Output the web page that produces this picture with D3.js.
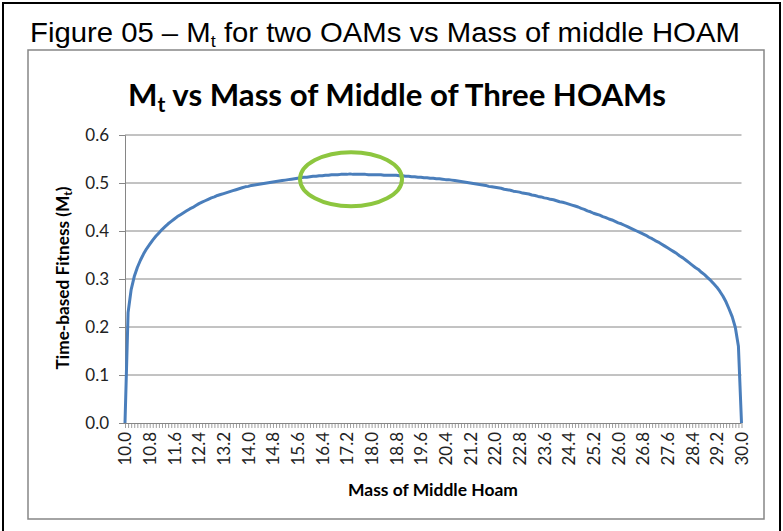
<!DOCTYPE html>
<html>
<head>
<meta charset="utf-8">
<script src="https://cdn.jsdelivr.net/npm/d3@7"></script>
<style>
  html, body { margin: 0; padding: 0; background: #fff; }
  svg { display: block; }
</style>
</head>
<body>
<script>
// ---------------- DATA ----------------
const figureCaption = ["Figure 05 \u2013 M", "t", " for two OAMs vs Mass of middle HOAM"];
const chartTitle = ["M", "t", " vs Mass of Middle of Three HOAMs"];
const yTitle = ["Time-based Fitness (M", "t", ")"];
const xTitle = "Mass of Middle Hoam";

// categories: mass of middle HOAM, 10.0 .. 30.0 step 0.1
const categories = d3.range(100, 301).map(d => (d / 10).toFixed(1));

// tick labels shown on the category axis
const xTickLabels = ["10.0","10.8","11.6","12.4","13.2","14.0","14.8","15.6","16.4","17.2",
  "18.0","18.8","19.6","20.4","21.2","22.0","22.8","23.6","24.4","25.2",
  "26.0","26.8","27.6","28.4","29.2","30.0"];
const yTicks = [0, 0.1, 0.2, 0.3, 0.4, 0.5, 0.6];

// time-based fitness Mt
const mtValues = [
  0.000, 0.230, 0.278, 0.305, 0.324, 0.339, 0.352, 0.363, 0.372, 0.381,
  0.389, 0.396, 0.403, 0.409, 0.415, 0.420, 0.425, 0.430, 0.434, 0.438,
  0.442, 0.446, 0.449, 0.453, 0.457, 0.460, 0.463, 0.466, 0.469, 0.471,
  0.474, 0.476, 0.478, 0.480, 0.482, 0.484, 0.486, 0.488, 0.490, 0.492,
  0.493, 0.495, 0.496, 0.497, 0.498, 0.499, 0.500, 0.501, 0.502, 0.503,
  0.504, 0.505, 0.506, 0.507, 0.508, 0.509, 0.510, 0.511, 0.512, 0.512,
  0.513, 0.514, 0.514, 0.515, 0.515, 0.516, 0.516, 0.517, 0.517, 0.517,
  0.518, 0.518, 0.518, 0.519, 0.518, 0.518, 0.518, 0.518, 0.518, 0.517,
  0.517, 0.517, 0.517, 0.517, 0.516, 0.516, 0.516, 0.516, 0.516, 0.515,
  0.515, 0.514, 0.514, 0.513, 0.513, 0.512, 0.512, 0.511, 0.511, 0.510,
  0.510, 0.509, 0.509, 0.508, 0.507, 0.507, 0.506, 0.505, 0.504, 0.503,
  0.502, 0.501, 0.500, 0.499, 0.498, 0.497, 0.496, 0.495, 0.493, 0.492,
  0.491, 0.490, 0.489, 0.487, 0.486, 0.485, 0.483, 0.482, 0.481, 0.479,
  0.478, 0.477, 0.475, 0.474, 0.472, 0.471, 0.469, 0.468, 0.466, 0.465,
  0.463, 0.461, 0.460, 0.458, 0.456, 0.454, 0.452, 0.450, 0.447, 0.445,
  0.442, 0.440, 0.437, 0.435, 0.433, 0.430, 0.428, 0.425, 0.423, 0.420,
  0.417, 0.415, 0.412, 0.409, 0.406, 0.403, 0.400, 0.397, 0.394, 0.391,
  0.387, 0.384, 0.380, 0.377, 0.373, 0.369, 0.365, 0.361, 0.357, 0.353,
  0.348, 0.344, 0.339, 0.334, 0.329, 0.324, 0.320, 0.314, 0.309, 0.303,
  0.297, 0.290, 0.283, 0.274, 0.264, 0.252, 0.237, 0.221, 0.199, 0.160,
  0.000
];

// highlighted region (peak): category centre and value centre
const highlightCenter = { cat: "17.3", val: 0.508 };

// ---------------- LAYOUT ----------------
const W = 783, H = 531;
const plot = { left: 125, right: 741.5, top: 135, bottom: 423 };
const gridColor = "#868686";
const lineColor = "#4a7ebb";
const labelFont = "Lato, 'Liberation Sans', sans-serif";

const svg = d3.select("body").append("svg")
  .attr("width", W).attr("height", H)
  .attr("viewBox", `0 0 ${W} ${H}`);

svg.append("rect").attr("width", W).attr("height", H).attr("fill", "#fff");

// outer black frame
svg.append("rect")
  .attr("x", 3).attr("y", 3).attr("width", 777).attr("height", 560)
  .attr("fill", "none").attr("stroke", "#000").attr("stroke-width", 2);

// caption
const cap = svg.append("text")
  .attr("x", 30).attr("y", 42)
  .attr("font-family", "'Liberation Sans Narrow', 'Arial Narrow', 'Liberation Sans', Arial, sans-serif")
  .attr("font-size", 27.5)
  .attr("fill", "#000");
cap.append("tspan").text(figureCaption[0]);
cap.append("tspan").attr("font-size", 17).attr("dy", 5).text(figureCaption[1]);
cap.append("tspan").attr("dy", -5).text(figureCaption[2]);
{
  const w = cap.node().getComputedTextLength();
  const target = 710;
  if (Math.abs(w - target) > 2) {
    cap.attr("transform", `translate(30,0) scale(${target / w},1) translate(-30,0)`);
  }
}

// chart box
svg.append("rect")
  .attr("x", 28).attr("y", 50).attr("width", 736).attr("height", 469)
  .attr("fill", "#fff").attr("stroke", gridColor).attr("stroke-width", 1.5);

// helper to fit a text element's font-size to a target length
function fitText(sel, baseSize, target, subRatio) {
  const w = sel.node().getComputedTextLength();
  const fs = baseSize * target / w;
  sel.attr("font-size", fs);
  if (subRatio) sel.select("tspan:nth-child(2)").attr("font-size", fs * subRatio);
  return fs;
}

// chart title
const ttl = svg.append("text")
  .attr("x", 397).attr("y", 106)
  .attr("text-anchor", "middle")
  .attr("font-family", labelFont)
  .attr("font-weight", "bold")
  .attr("font-size", 28)
  .attr("fill", "#000");
ttl.append("tspan").text(chartTitle[0]);
ttl.append("tspan").attr("font-size", 19).attr("dy", 6).text(chartTitle[1]);
ttl.append("tspan").attr("dy", -6).text(chartTitle[2]);
fitText(ttl, 28, 538, 0.68);

// scales
const x = d3.scalePoint().domain(categories).range([plot.left, plot.right]);
const y = d3.scaleLinear().domain([0, 0.6]).range([plot.bottom, plot.top]);

// gridlines
svg.append("g")
  .selectAll("line")
  .data(yTicks.filter(d => d > 0))
  .join("line")
  .attr("x1", plot.left).attr("x2", plot.right)
  .attr("y1", d => y(d)).attr("y2", d => y(d))
  .attr("stroke", gridColor).attr("stroke-width", 1);

// y axis
const yAxis = svg.append("g")
  .attr("transform", `translate(${plot.left},0)`)
  .call(d3.axisLeft(y).tickValues(yTicks).tickFormat(d3.format(".1f")).tickSize(6).tickPadding(10));
yAxis.select(".domain").attr("stroke", gridColor).attr("stroke-width", 1);
yAxis.selectAll(".tick line").attr("stroke", gridColor);
yAxis.selectAll("text")
  .attr("font-family", labelFont).attr("font-size", 17).attr("fill", "#222");

// x axis
const xAxis = svg.append("g")
  .attr("transform", `translate(0,${plot.bottom})`)
  .call(d3.axisBottom(x).tickSize(5).tickFormat(d => xTickLabels.includes(d) ? d : ""));
xAxis.select(".domain").attr("stroke", gridColor).attr("stroke-width", 1)
  .attr("d", `M${plot.left},0.5H${plot.right}`);
xAxis.selectAll(".tick line").attr("stroke", gridColor).attr("stroke-width", 0.8);
xAxis.selectAll("text")
  .attr("font-family", labelFont).attr("font-size", 17).attr("fill", "#222")
  .attr("text-anchor", "end")
  .attr("transform", "rotate(-90)")
  .attr("x", -9).attr("y", 0).attr("dy", "0.35em");

// line
const line = d3.line()
  .x((d, i) => x(categories[i]))
  .y(d => y(d));
svg.append("path")
  .datum(mtValues)
  .attr("d", line)
  .attr("fill", "none")
  .attr("stroke", lineColor)
  .attr("stroke-width", 3)
  .attr("stroke-linejoin", "round");

// highlight ellipse
svg.append("ellipse")
  .attr("cx", x(highlightCenter.cat) + 1)
  .attr("cy", y(highlightCenter.val))
  .attr("rx", 51).attr("ry", 27)
  .attr("fill", "none")
  .attr("stroke", "#8dc63f")
  .attr("stroke-width", 4);

// y title
const yt = svg.append("text")
  .attr("transform", `translate(69,278) rotate(-90)`)
  .attr("text-anchor", "middle")
  .attr("font-family", labelFont)
  .attr("font-weight", "bold")
  .attr("font-size", 13.5)
  .attr("fill", "#000");
yt.append("tspan").text(yTitle[0]);
yt.append("tspan").attr("font-size", 9.5).attr("dy", 3).text(yTitle[1]);
yt.append("tspan").attr("dy", -3).text(yTitle[2]);
fitText(yt, 13.5, 183, 0.7);

// x title
const xt = svg.append("text")
  .attr("x", 433).attr("y", 496)
  .attr("text-anchor", "middle")
  .attr("font-family", labelFont)
  .attr("font-weight", "bold")
  .attr("font-size", 15)
  .attr("fill", "#000")
  .text(xTitle);
fitText(xt, 15, 170);
</script>
</body>
</html>
